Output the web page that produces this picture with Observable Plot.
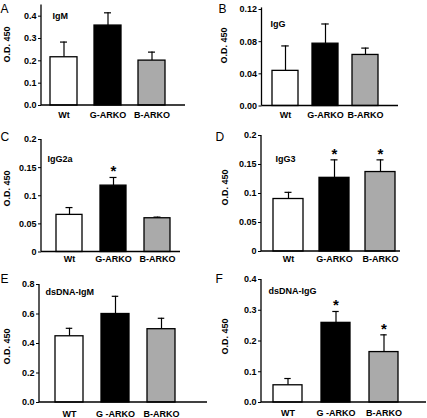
<!DOCTYPE html>
<html><head><meta charset="utf-8">
<script src="https://cdn.jsdelivr.net/npm/d3@7"></script>
<script src="https://cdn.jsdelivr.net/npm/@observablehq/plot@0.6"></script>
<style>
body{margin:0;background:#fff;}
#fig{position:relative;width:427px;height:418px;overflow:hidden;background:#fff;}
.p{position:absolute;}
</style></head><body><div id="fig"></div>
<script>
// ---- data ----
const fills = ["#ffffff", "#000000", "#aaaaaa"];
const groups = ["Wt", "G-ARKO", "B-ARKO"];
const groupsDs = ["WT", "G -ARKO", "B-ARKO"];
const yLabel = "O.D. 450";

const igmMean = [0.216, 0.358, 0.201];
const igmSd = [0.068, 0.057, 0.038];
const iggMean = [0.0437, 0.0775, 0.0635];
const iggSd = [0.031, 0.0245, 0.0085];
const igg2aMean = [0.066, 0.118, 0.060];
const igg2aSd = [0.013, 0.0145, 0.002];
const igg2aSig = ["", "*", ""];
const igg3Mean = [0.0905, 0.127, 0.137];
const igg3Sd = [0.0115, 0.031, 0.021];
const igg3Sig = ["", "*", "*"];
const dsIgmMean = [0.449, 0.600, 0.497];
const dsIgmSd = [0.054, 0.120, 0.074];
const dsIggMean = [0.056, 0.259, 0.164];
const dsIggSd = [0.022, 0.037, 0.056];
const dsIggSig = ["", "*", "*"];

const ticksA = [0, 0.1, 0.2, 0.3, 0.4];
const labelsA = ["0.0", "0.1", "0.2", "0.3", "0.4"];
const ticksB = [0, 0.04, 0.08, 0.12];
const labelsB = ["0.00", "0.04", "0.08", "0.12"];
const ticksCD = [0, 0.05, 0.1, 0.15, 0.2];
const labelsCD = ["0", "0.05", "0.1", "0.15", "0.2"];
const ticksE = [0, 0.2, 0.4, 0.6, 0.8];
const labelsE = ["0.0", "0.2", "0.4", "0.6", "0.8"];
const ticksF = [0, 0.1, 0.2, 0.3, 0.4];
const labelsF = ["0.0", "0.1", "0.2", "0.3", "0.4"];

// ---- layout ----
const panels = [
  {letter:"A", title:"IgM", groups, mean:igmMean, sd:igmSd, sig:null, ticks:ticksA, labels:labelsA, ymax:0.45,
   left:0, top:0, width:213, height:125, ml:41, mt:4.5, mr:28, mb:20, xr:[42,174], pad:0.386, xpad:6,
   titleAt:[52,12], labAt:[7,44], letterAt:[0,12]},
  {letter:"B", title:"IgG", groups, mean:iggMean, sd:iggSd, sig:null, ticks:ticksB, labels:labelsB, ymax:0.122,
   left:213, top:0, width:214, height:125, ml:48.5, mt:7.4, mr:29, mb:19.5, xr:[51.5,171.5], pad:0.3625, xpad:6,
   titleAt:[270,20], labAt:[224,45], letterAt:[218,12]},
  {letter:"C", title:"IgG2a", groups, mean:igg2aMean, sd:igg2aSd, sig:igg2aSig, ticks:ticksCD, labels:labelsCD, ymax:0.2,
   left:0, top:130, width:213, height:141, ml:41, mt:9, mr:33, mb:19.5, xr:[47,179], pad:0.409, xpad:4,
   titleAt:[47,155], labAt:[7,188], letterAt:[0,140]},
  {letter:"D", title:"IgG3", groups, mean:igg3Mean, sd:igg3Sd, sig:igg3Sig, ticks:ticksCD, labels:labelsCD, ymax:0.2,
   left:213, top:130, width:214, height:141, ml:48, mt:5, mr:27, mb:20, xr:[52,190], pad:0.348, xpad:4,
   titleAt:[275,155], labAt:[225,187], letterAt:[215,140]},
  {letter:"E", title:"dsDNA-IgM", groups:groupsDs, mean:dsIgmMean, sd:dsIgmSd, sig:null, ticks:ticksE, labels:labelsE, ymax:0.8,
   left:0, top:270, width:213, height:148, ml:39, mt:14, mr:6, mb:16, xr:[45.25,184.75], pad:0.387, xpad:8,
   titleAt:[45,287.7], labAt:[7,346], letterAt:[0,282]},
  {letter:"F", title:"dsDNA-IgG", groups:groupsDs, mean:dsIggMean, sd:dsIggSd, sig:dsIggSig, ticks:ticksF, labels:labelsF, ymax:0.4,
   left:213, top:270, width:214, height:148, ml:48, mt:9, mr:1, mb:16, xr:[49.75,195.25], pad:0.39, xpad:7,
   titleAt:[268,286.7], labAt:[225,336], letterAt:[215,282]}
];

const font = 'Arial, "Liberation Sans", sans-serif';

function panel(p) {
  const data = p.groups.map((g, i) => ({g, m: p.mean[i], hi: p.mean[i] + p.sd[i], fill: fills[i], sig: p.sig ? p.sig[i] : ""}));
  const step = (p.xr[1] - p.xr[0]) / 3;
  const bw = step * (1 - p.pad);
  const capInset = (bw - 7) / 2;
  const frameMidY = (p.mt + p.height - p.mb) / 2;
  const axisLines = (index, scales, values, dim) => {
    const ns = "http://www.w3.org/2000/svg";
    const g = document.createElementNS(ns, "g");
    const y0 = scales.y(0), y1 = scales.y(p.ymax);
    const xl = dim.marginLeft, xr = dim.width - dim.marginRight;
    for (const [a, b, c, d] of [[xl, y0, xl, y1], [xl, y0, xr, y0]]) {
      const l = document.createElementNS(ns, "line");
      l.setAttribute("x1", a); l.setAttribute("y1", b);
      l.setAttribute("x2", c); l.setAttribute("y2", d);
      l.setAttribute("stroke", "black"); l.setAttribute("stroke-width", 1.3);
      g.appendChild(l);
    }
    return g;
  };
  return Plot.plot({
    width: p.width, height: p.height,
    marginLeft: p.ml, marginTop: p.mt, marginRight: p.mr, marginBottom: p.mb,
    style: {fontFamily: font, fontSize: "9px", fontWeight: "bold", background: "transparent", overflow: "visible", color: "black"},
    x: {type: "band", domain: p.groups, range: p.xr, paddingInner: p.pad, paddingOuter: p.pad / 2, align: 0.5},
    y: {domain: [0, p.ymax]},
    color: {type: "identity"},
    marks: [
      Plot.ruleX(data, {x: "g", y1: "m", y2: "hi", stroke: "black", strokeWidth: 1.2}),
      Plot.tickY(data, {x: "g", y: "hi", insetLeft: capInset, insetRight: capInset, stroke: "black", strokeWidth: 1.2}),
      Plot.barY(data, {x: "g", y: "m", fill: "fill", stroke: "black", strokeWidth: 1.3, inset: 0}),
      Plot.text(data.filter(d => d.sig), {x: "g", y: "hi", text: "sig", lineAnchor: "bottom", dy: -1, fontSize: 15, fill: "black"}),
      Plot.text([p.title], {frameAnchor: "top-left", textAnchor: "start", lineAnchor: "top",
        dx: p.titleAt[0] - p.left - p.ml, dy: p.titleAt[1] - p.top - p.mt, fontSize: 9, fill: "black"}),
      Plot.text([yLabel], {frameAnchor: "left", rotate: -90, textAnchor: "middle", lineAnchor: "middle",
        dx: p.labAt[0] - p.left - p.ml, dy: p.labAt[1] - p.top - frameMidY, fontSize: 9, fill: "black"}),
      Plot.text([p.letter], {frameAnchor: "top-left", textAnchor: "start", lineAnchor: "bottom",
        dx: p.letterAt[0] - p.left - p.ml, dy: p.letterAt[1] - p.top - p.mt, fontSize: 12, fontWeight: "normal", fill: "black"}),
      Plot.axisY({ticks: p.ticks, tickFormat: d => p.labels[p.ticks.indexOf(d)], tickSize: 3, tickPadding: 2, label: null}),
      Plot.axisX({tickSize: 0, tickPadding: p.xpad, label: null}),
      axisLines
    ]
  });
}

const fig = document.getElementById("fig");
for (const p of panels) {
  const div = document.createElement("div");
  div.className = "p";
  div.style.left = p.left + "px";
  div.style.top = p.top + "px";
  div.appendChild(panel(p));
  fig.appendChild(div);
}
</script>
</body></html>
